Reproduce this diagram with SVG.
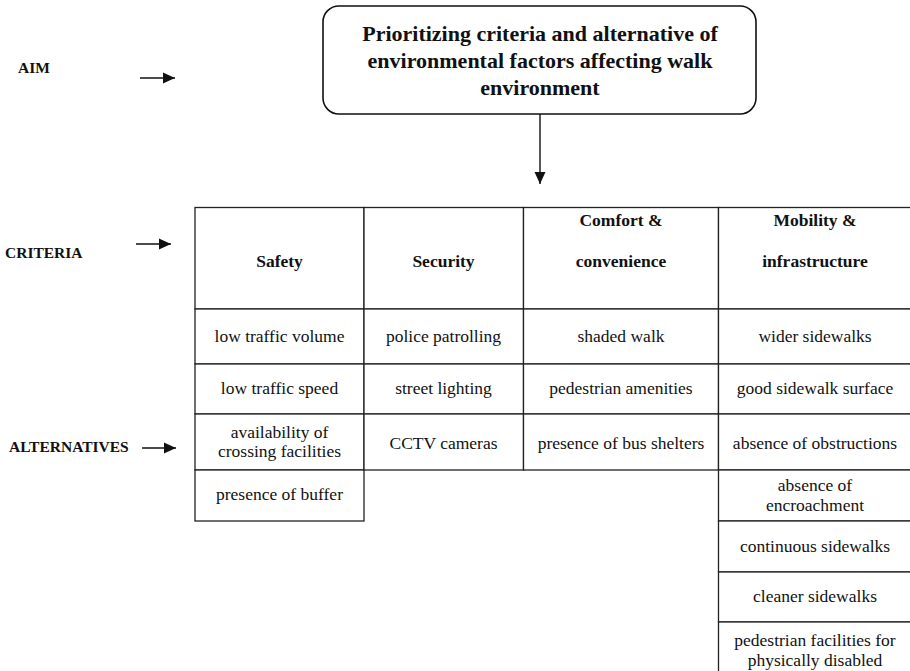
<svg xmlns="http://www.w3.org/2000/svg" width="910" height="671" viewBox="0 0 910 671">
<style>
text{font-family:"Liberation Serif","Times New Roman",serif;fill:#111}
.t{font-size:22px;font-weight:bold;text-anchor:middle}
.lab{font-size:15.5px;font-weight:bold}
.h{font-size:17.5px;font-weight:bold;text-anchor:middle}
.c{font-size:17.5px;text-anchor:middle}
.cell{fill:#fff;stroke:#222;stroke-width:1.3}
.ln{stroke:#111;stroke-width:1.4;fill:none}
</style>
<defs>
<marker id="ah" viewBox="0 0 12 12" refX="12" refY="6" markerWidth="12" markerHeight="12" markerUnits="userSpaceOnUse" orient="auto">
<path d="M0,0.5 L12,6 L0,11.5 Z" fill="#111"/>
</marker>
</defs>
<rect width="910" height="671" fill="#fff"/>

<g id="aim">
<rect x="323" y="6" width="433" height="108" rx="16" ry="16" fill="#fff" stroke="#111" stroke-width="1.6"/>
<text class="t" x="540" y="41">Prioritizing criteria and alternative of</text>
<text class="t" x="540" y="68">environmental factors affecting walk</text>
<text class="t" x="540" y="95">environment</text>
</g>

<g id="labels">
<text class="lab" x="18" y="73">AIM</text>
<text class="lab" x="5" y="257.5">CRITERIA</text>
<text class="lab" x="9" y="452">ALTERNATIVES</text>
</g>

<g id="connectors">
<line class="ln" x1="140" y1="78" x2="175" y2="78" marker-end="url(#ah)"/>
<line class="ln" x1="136" y1="244" x2="171" y2="244" marker-end="url(#ah)"/>
<line class="ln" x1="142" y1="448" x2="176" y2="448" marker-end="url(#ah)"/>
<line class="ln" x1="540" y1="114" x2="540" y2="184" marker-end="url(#ah)"/>
</g>

<g id="safety">
<rect class="cell" x="195" y="207.5" width="169" height="101.5"/>
<rect class="cell" x="195" y="309" width="169" height="55"/>
<rect class="cell" x="195" y="364" width="169" height="50"/>
<rect class="cell" x="195" y="414" width="169" height="56"/>
<rect class="cell" x="195" y="470" width="169" height="51"/>
<text class="h" x="279.5" y="267">Safety</text>
<text class="c" x="279.5" y="342">low traffic volume</text>
<text class="c" x="279.5" y="394">low traffic speed</text>
<text class="c" x="279.5" y="438">availability of</text>
<text class="c" x="279.5" y="457">crossing facilities</text>
<text class="c" x="279.5" y="500">presence of buffer</text>
</g>

<g id="security">
<rect class="cell" x="364" y="207.5" width="159.5" height="101.5"/>
<rect class="cell" x="364" y="309" width="159.5" height="55"/>
<rect class="cell" x="364" y="364" width="159.5" height="50"/>
<rect class="cell" x="364" y="414" width="159.5" height="56"/>
<text class="h" x="443.5" y="267">Security</text>
<text class="c" x="443.5" y="342">police patrolling</text>
<text class="c" x="443.5" y="394">street lighting</text>
<text class="c" x="443.5" y="449">CCTV cameras</text>
</g>

<g id="comfort">
<rect class="cell" x="523.5" y="207.5" width="195" height="101.5"/>
<rect class="cell" x="523.5" y="309" width="195" height="55"/>
<rect class="cell" x="523.5" y="364" width="195" height="50"/>
<rect class="cell" x="523.5" y="414" width="195" height="56"/>
<text class="h" x="621" y="226">Comfort &amp;</text>
<text class="h" x="621" y="267">convenience</text>
<text class="c" x="621" y="342">shaded walk</text>
<text class="c" x="621" y="394">pedestrian amenities</text>
<text class="c" x="621" y="449">presence of bus shelters</text>
</g>

<g id="mobility">
<rect class="cell" x="718.5" y="207.5" width="195" height="101.5"/>
<rect class="cell" x="718.5" y="309" width="195" height="55"/>
<rect class="cell" x="718.5" y="364" width="195" height="50"/>
<rect class="cell" x="718.5" y="414" width="195" height="56"/>
<rect class="cell" x="718.5" y="470" width="195" height="51"/>
<rect class="cell" x="718.5" y="521" width="195" height="51"/>
<rect class="cell" x="718.5" y="572" width="195" height="50"/>
<rect class="cell" x="718.5" y="622" width="195" height="60"/>
<text class="h" x="815" y="226">Mobility &amp;</text>
<text class="h" x="815" y="267">infrastructure</text>
<text class="c" x="815" y="342">wider sidewalks</text>
<text class="c" x="815" y="394">good sidewalk surface</text>
<text class="c" x="815" y="449">absence of obstructions</text>
<text class="c" x="815" y="491">absence of</text>
<text class="c" x="815" y="511">encroachment</text>
<text class="c" x="815" y="551.5">continuous sidewalks</text>
<text class="c" x="815" y="602">cleaner sidewalks</text>
<text class="c" x="815" y="645.5">pedestrian facilities for</text>
<text class="c" x="815" y="665.5">physically disabled</text>
</g>
</svg>
